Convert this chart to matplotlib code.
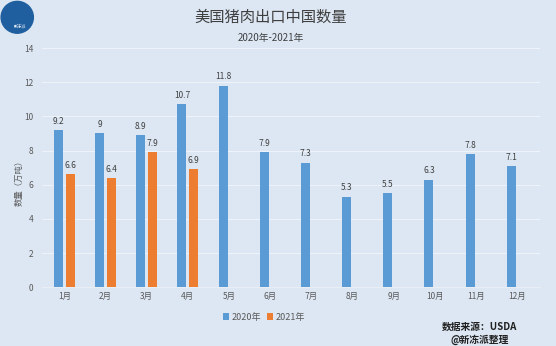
import matplotlib
matplotlib.use("Agg")
import matplotlib.pyplot as plt
from matplotlib.patches import Ellipse
import numpy as np

plt.rcParams['font.family'] = ['Noto Sans CJK SC', 'DejaVu Sans']

months = ["1月", "2月", "3月", "4月", "5月", "6月", "7月", "8月", "9月", "10月", "11月", "12月"]
values_2020 = [9.2, 9, 8.9, 10.7, 11.8, 7.9, 7.3, 5.3, 5.5, 6.3, 7.8, 7.1]
values_2021 = [6.6, 6.4, 7.9, 6.9]

bg = '#dce7f3'
blue = '#5b9bd5'
orange = '#ed7d31'

fig = plt.figure(figsize=(5.56, 3.46), dpi=100, facecolor=bg)
ax = fig.add_axes([0.075, 0.17, 0.896, 0.691], facecolor=bg)

x = np.arange(len(months))
w = 0.22
gap = 0.07
b1 = ax.bar(x - (w + gap) / 2, values_2020, w, color=blue, label="2020年", zorder=3)
x21 = x[:len(values_2021)]
b2 = ax.bar(x21 + (w + gap) / 2, values_2021, w, color=orange, label="2021年", zorder=3)

for rect, v in zip(b1, values_2020):
    ax.text(rect.get_x() + rect.get_width() / 2, v + 0.25, f"{v:g}", ha='center', va='bottom',
            fontsize=6, color='#404040')
for rect, v in zip(b2, values_2021):
    ax.text(rect.get_x() + rect.get_width() / 2, v + 0.25, f"{v:g}", ha='center', va='bottom',
            fontsize=6, color='#404040')

ax.set_ylim(0, 14)
ax.set_yticks(range(0, 15, 2))
ax.set_xlim(-0.55, 11.55)
ax.set_xticks(x)
ax.set_xticklabels(months)
ax.tick_params(axis='both', length=0, labelsize=6, colors='#595959')
ax.tick_params(axis='y', pad=6)
ax.grid(axis='y', color='#eef3f9', linewidth=0.8, zorder=0)
for s in ['top', 'right', 'left']:
    ax.spines[s].set_visible(False)
ax.spines['bottom'].set_color('#e9eef5')

fig.text(0.034, 0.477, "数量（万吨）", rotation=90, ha='center', va='center', fontsize=6, color='#595959')

fig.text(0.487, 0.951, "美国猪肉出口中国数量", ha='center', va='center', fontsize=11, color='#404040')
fig.text(0.487, 0.89, "2020年-2021年", ha='center', va='center', fontsize=7, color='#404040')

fig.legend(handles=[b1, b2], loc='center', bbox_to_anchor=(0.475, 0.083), ncol=2, frameon=False,
           fontsize=6.5, handlelength=0.7, handleheight=0.7, columnspacing=0.6, handletextpad=0.3,
           labelcolor='#595959')

fig.text(0.862, 0.055, "数据来源：USDA", ha='center', va='center', fontsize=7, fontweight='bold', color='#202020')
fig.text(0.862, 0.017, "@新冻派整理", ha='center', va='center', fontsize=7, fontweight='bold', color='#202020')

# logo circle top-left
logo = Ellipse((0.031, 0.95), 0.058, 0.092, transform=fig.transFigure, color='#1f5fa0', zorder=5)
fig.patches.append(logo)
fig.text(0.036, 0.925, "新冻派", ha='center', va='center', fontsize=3, color='white', zorder=6)

fig.savefig("out.png", dpi=100, facecolor=bg)
